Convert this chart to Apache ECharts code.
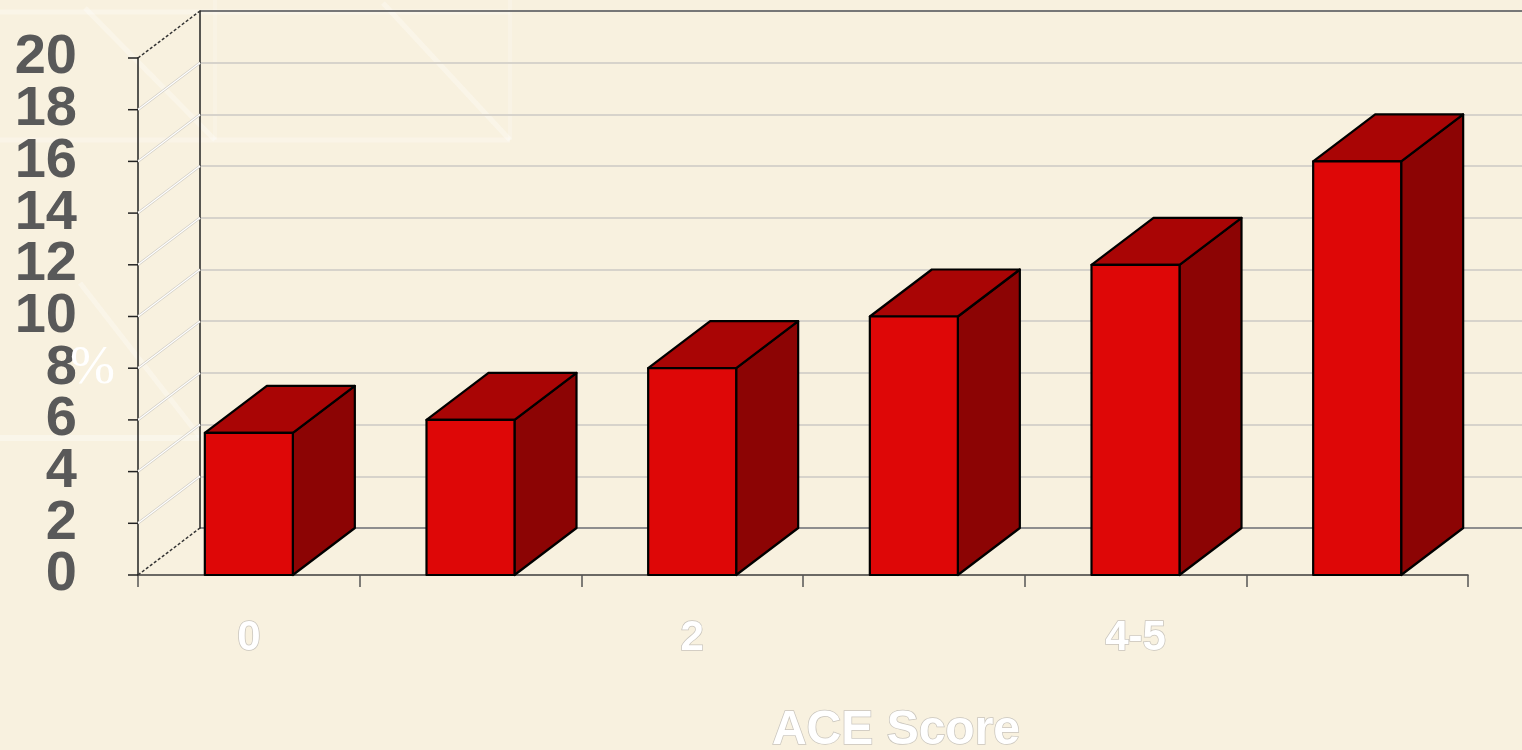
<!DOCTYPE html>
<html>
<head>
<meta charset="utf-8">
<script src="https://cdn.jsdelivr.net/npm/echarts@6/dist/echarts.min.js"></script>
<style>
html,body{margin:0;padding:0;background:#F8F1DF;}
#chart{width:1522px;height:750px;}
</style>
</head>
<body>
<div id="chart"></div>
<script>
// ---- data ----
const categories = ['0', '1', '2', '3', '4-5', '6+'];
const values = [5.5, 6, 8, 10, 12, 16];
const yTicks = [0, 2, 4, 6, 8, 10, 12, 14, 16, 18, 20];
const yAxisTitle = '%';
const xAxisTitle = 'ACE Score';

// ---- 3D projection (style) ----
const DX = 62, DY = -47;

const chart = echarts.init(document.getElementById('chart'));

const splitColors = yTicks.map((t, i) => i === 0 ? '#8e8e8e' : (i === yTicks.length - 1 ? '#777777' : '#d7d3cb'));

const option = {
  backgroundColor: '#F8F1DF',
  animation: false,
  grid: [
    { left: 138, top: 58, width: 1330, height: 517 },
    { left: 138 + DX, top: 58 + DY, width: 1330, height: 517 }
  ],
  xAxis: [
    {
      type: 'category', gridIndex: 0, data: categories,
      axisLine: { show: true, lineStyle: { color: '#3c3c3c', width: 1.5 } },
      axisTick: { show: true, interval: 0, length: 12, lineStyle: { color: '#555', width: 1.5 } },
      axisLabel: {
        interval: 1, margin: 42,
        fontFamily: '"Liberation Sans", Arial, sans-serif',
        fontWeight: 'bold', fontSize: 42, color: '#ffffff',
        textBorderColor: '#c9c5bd', textBorderWidth: 1.5
      },
      splitLine: { show: false }
    },
    {
      type: 'category', gridIndex: 1, data: categories,
      axisLine: { show: false }, axisTick: { show: false }, axisLabel: { show: false },
      splitLine: { show: false }
    }
  ],
  yAxis: [
    {
      type: 'value', gridIndex: 0, min: 0, max: 20, interval: 2,
      axisLine: { show: true, lineStyle: { color: '#222', width: 1.5 } },
      axisTick: { show: false }, axisLabel: { show: false },
      splitLine: { show: false }
    },
    {
      type: 'value', gridIndex: 1, min: 0, max: 20, interval: 2,
      axisLine: { show: true, lineStyle: { color: '#222', width: 1.5 } },
      axisTick: { show: false }, axisLabel: { show: false },
      splitLine: { show: true, lineStyle: { color: splitColors, width: 2 } }
    }
  ],
  graphic: [
    // faint decorative background lines
    { type: 'group', z: -5, silent: true, children: [
      { type: 'line', shape: { x1: 0, y1: 12, x2: 510, y2: 12 }, style: { stroke: 'rgba(255,255,255,0.3)', lineWidth: 5 } },
      { type: 'line', shape: { x1: 0, y1: 140, x2: 510, y2: 140 }, style: { stroke: 'rgba(255,255,255,0.25)', lineWidth: 5 } },
      { type: 'line', shape: { x1: 85, y1: 8, x2: 215, y2: 140 }, style: { stroke: 'rgba(255,255,255,0.3)', lineWidth: 5 } },
      { type: 'line', shape: { x1: 383, y1: 3, x2: 510, y2: 140 }, style: { stroke: 'rgba(255,255,255,0.3)', lineWidth: 5 } },
      { type: 'line', shape: { x1: 510, y1: 0, x2: 510, y2: 140 }, style: { stroke: 'rgba(255,255,255,0.2)', lineWidth: 4 } },
      { type: 'line', shape: { x1: 215, y1: 0, x2: 215, y2: 140 }, style: { stroke: 'rgba(255,255,255,0.18)', lineWidth: 4 } },
      { type: 'line', shape: { x1: 0, y1: 438, x2: 200, y2: 438 }, style: { stroke: 'rgba(255,255,255,0.35)', lineWidth: 6 } },
      { type: 'line', shape: { x1: 80, y1: 283, x2: 200, y2: 437 }, style: { stroke: 'rgba(255,255,255,0.3)', lineWidth: 5 } }
    ]},
    {
      type: 'text', z: 100, x: 70, y: 342,
      style: { text: yAxisTitle, fill: '#ffffff', font: '54px "Liberation Serif", "Times New Roman", serif', textVerticalAlign: 'top' }
    },
    {
      type: 'text', z: 100, x: 896, y: 731,
      style: {
        text: xAxisTitle, fill: '#ffffff', stroke: '#c9c5bd', lineWidth: 1.5,
        font: 'bold 48px "Liberation Sans", Arial, sans-serif',
        textAlign: 'center', textVerticalAlign: 'middle'
      }
    }
  ],
  series: [
    {
      // left side wall lines + front y-axis ticks and tick labels
      type: 'custom', xAxisIndex: 0, yAxisIndex: 0, z: 3, silent: true, clip: false,
      data: yTicks.map(v => [0, v]),
      renderItem: function (params, api) {
        const v = api.value(1);
        const p = api.coord([0, v]);
        const x0 = params.coordSys.x;
        const isEdge = (v === yTicks[0] || v === yTicks[yTicks.length - 1]);
        const children = [];
        if (isEdge) {
          children.push({ type: 'line', shape: { x1: x0, y1: p[1], x2: x0 + DX, y2: p[1] + DY },
            style: { stroke: '#333', lineWidth: 1.5, lineDash: [3, 2] } });
        } else {
          children.push({ type: 'line', shape: { x1: x0, y1: p[1], x2: x0 + DX, y2: p[1] + DY }, style: { stroke: '#cfcbc3', lineWidth: 2.5 } });
          children.push({ type: 'line', shape: { x1: x0, y1: p[1], x2: x0 + DX, y2: p[1] + DY }, style: { stroke: '#ffffff', lineWidth: 1.2 } });
        }
        children.push({ type: 'line', shape: { x1: x0 - 10, y1: p[1], x2: x0, y2: p[1] }, style: { stroke: '#222', lineWidth: 1.5 } });
        children.push({ type: 'text', x: x0 - 61, y: p[1],
          style: { text: String(v), fill: '#595959', textAlign: 'right', textVerticalAlign: 'middle',
            font: 'bold 56px "Liberation Sans", Arial, sans-serif' } });
        return { type: 'group', children: children };
      }
    },
    {
      // 3D bars
      type: 'custom', xAxisIndex: 0, yAxisIndex: 0, z: 10,
      data: values.map((v, i) => [i, v]),
      renderItem: function (params, api) {
        const c = api.coord([api.value(0), api.value(1)]);
        const b = api.coord([api.value(0), 0]);
        const band = api.size([1, 0])[0];
        const w = band * 0.397;
        const x0 = c[0] - w / 2, x1 = c[0] + w / 2;
        const top = c[1], bot = b[1];
        const edge = { stroke: '#000', lineWidth: 2.2, lineJoin: 'round' };
        return { type: 'group', children: [
          { type: 'polygon', shape: { points: [[x1, top], [x1 + DX, top + DY], [x1 + DX, bot + DY], [x1, bot]] },
            style: Object.assign({ fill: '#8C0404' }, edge) },
          { type: 'polygon', shape: { points: [[x0, top], [x0 + DX, top + DY], [x1 + DX, top + DY], [x1, top]] },
            style: Object.assign({ fill: '#A90505' }, edge) },
          { type: 'polygon', shape: { points: [[x0, top], [x1, top], [x1, bot], [x0, bot]] },
            style: Object.assign({ fill: '#DE0707' }, edge) }
        ]};
      }
    }
  ]
};

chart.setOption(option);
</script>
</body>
</html>
